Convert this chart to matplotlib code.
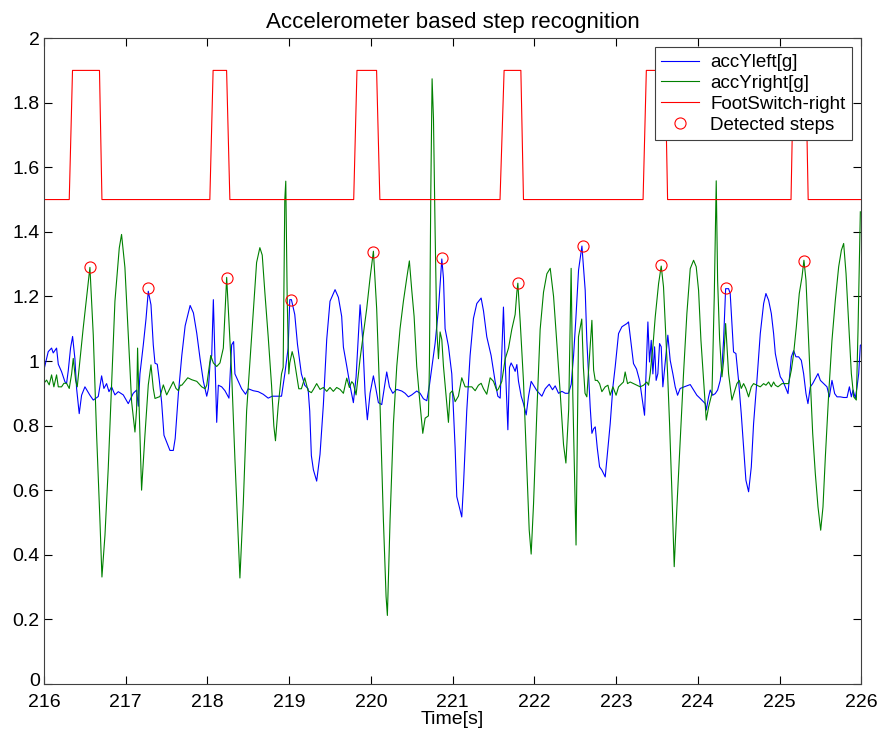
import matplotlib
matplotlib.use('Agg')
from matplotlib import pyplot as plt
from matplotlib.transforms import ScaledTranslation

# 时间轴 [s] 与左脚加速度
left_t = [216.000, 216.053, 216.094, 216.114, 216.155, 216.176, 216.216, 216.257, 216.277, 216.298,
          216.326, 216.351, 216.379, 216.400, 216.432, 216.461, 216.502, 216.563, 216.604, 216.665,
          216.706, 216.734, 216.767, 216.796, 216.828, 216.869, 216.910, 216.971, 217.032, 217.093,
          217.134, 217.155, 217.175, 217.216, 217.249, 217.277, 217.310, 217.338, 217.359, 217.387,
          217.412, 217.440, 217.469, 217.501, 217.542, 217.583, 217.606, 217.646, 217.687, 217.728,
          217.789, 217.829, 217.870, 217.911, 217.951, 217.992, 218.012, 218.033, 218.053, 218.073,
          218.093, 218.114, 218.134, 218.175, 218.215, 218.264, 218.297, 218.321, 218.337, 218.378,
          218.419, 218.467, 218.500, 218.561, 218.622, 218.683, 218.744, 218.793, 218.866, 218.907,
          218.947, 218.988, 219.008, 219.028, 219.069, 219.102, 219.150, 219.191, 219.232, 219.252,
          219.272, 219.297, 219.337, 219.378, 219.419, 219.460, 219.500, 219.562, 219.603, 219.643,
          219.664, 219.705, 219.745, 219.786, 219.819, 219.868, 219.900, 219.929, 219.957, 219.990,
          220.031, 220.063, 220.092, 220.133, 220.194, 220.227, 220.268, 220.317, 220.378, 220.419,
          220.459, 220.500, 220.561, 220.602, 220.643, 220.684, 220.716, 220.786, 220.827, 220.868,
          220.888, 220.908, 220.949, 220.990, 221.010, 221.031, 221.051, 221.112, 221.133, 221.173,
          221.214, 221.255, 221.296, 221.349, 221.378, 221.418, 221.471, 221.520, 221.553, 221.582,
          221.622, 221.643, 221.676, 221.696, 221.716, 221.745, 221.765, 221.786, 221.806, 221.839,
          221.867, 221.900, 221.929, 221.961, 221.990, 222.031, 222.092, 222.133, 222.182, 222.222,
          222.255, 222.296, 222.337, 222.378, 222.418, 222.451, 222.480, 222.508, 222.541, 222.582,
          222.622, 222.642, 222.663, 222.683, 222.704, 222.725, 222.745, 222.770, 222.798, 222.826,
          222.867, 222.928, 222.961, 222.989, 223.030, 223.071, 223.132, 223.152, 223.213, 223.250,
          223.287, 223.348, 223.389, 223.409, 223.430, 223.450, 223.471, 223.490, 223.511, 223.532,
          223.552, 223.572, 223.633, 223.662, 223.694, 223.723, 223.752, 223.784, 223.833, 223.907,
          223.948, 223.988, 224.029, 224.091, 224.103, 224.132, 224.152, 224.181, 224.213, 224.242,
          224.274, 224.295, 224.315, 224.340, 224.376, 224.396, 224.437, 224.466, 224.498, 224.531,
          224.560, 224.588, 224.621, 224.654, 224.682, 224.723, 224.764, 224.805, 224.833, 224.866,
          224.899, 224.927, 224.948, 224.980, 225.009, 225.037, 225.070, 225.103, 225.144, 225.172,
          225.200, 225.233, 225.266, 225.294, 225.323, 225.347, 225.376, 225.405, 225.470, 225.499,
          225.539, 225.580, 225.609, 225.641, 225.674, 225.703, 225.743, 225.784, 225.825, 225.854,
          225.878, 225.899, 225.927, 225.948, 225.968, 225.988, 226.000]
left_v = [0.972, 1.029, 1.040, 1.025, 1.040, 0.990, 0.967, 0.936, 0.930, 0.970,
          1.040, 1.076, 1.008, 0.915, 0.837, 0.894, 0.920, 0.894, 0.879, 0.890,
          0.954, 0.915, 0.930, 0.905, 0.920, 0.895, 0.905, 0.895, 0.868, 0.900,
          0.910, 0.860, 0.960, 1.050, 1.130, 1.216, 1.174, 1.050, 0.993, 0.990,
          0.940, 0.873, 0.770, 0.749, 0.723, 0.723, 0.760, 0.902, 1.017, 1.109,
          1.172, 1.149, 1.086, 1.006, 0.937, 0.891, 0.914, 0.994, 1.017, 1.190,
          1.000, 0.810, 0.925, 0.920, 0.908, 0.885, 1.050, 1.060, 0.960, 0.937,
          0.914, 0.897, 0.914, 0.908, 0.905, 0.897, 0.885, 0.891, 0.891, 0.891,
          0.960, 1.040, 1.190, 1.190, 1.144, 1.052, 0.960, 0.925, 0.914, 0.845,
          0.707, 0.663, 0.628, 0.711, 0.865, 1.067, 1.185, 1.221, 1.197, 1.138,
          1.043, 0.984, 0.924, 0.871, 0.950, 1.174, 1.067, 0.900, 0.818, 0.900,
          0.954, 0.912, 0.871, 0.865, 0.966, 0.920, 0.900, 0.912, 0.907, 0.900,
          0.889, 0.895, 0.907, 0.900, 0.883, 0.877, 0.924, 1.055, 1.162, 1.316,
          1.257, 1.100, 1.046, 0.960, 0.845, 0.730, 0.580, 0.517, 0.615, 0.845,
          1.017, 1.132, 1.178, 1.195, 1.155, 1.075, 1.017, 0.937, 0.891, 0.885,
          1.167, 1.000, 0.787, 0.980, 0.994, 0.980, 0.968, 0.989, 0.937, 0.891,
          0.868, 0.833, 0.891, 0.937, 0.925, 0.908, 0.891, 0.914, 0.928, 0.911,
          0.923, 0.900, 0.906, 0.900, 0.900, 0.928, 1.017, 1.132, 1.282, 1.356,
          1.219, 1.064, 0.961, 0.858, 0.776, 0.790, 0.796, 0.730, 0.672, 0.662,
          0.641, 0.806, 0.920, 0.982, 1.085, 1.106, 1.116, 1.121, 0.992, 0.975,
          0.940, 0.832, 1.121, 0.997, 1.064, 0.960, 1.044, 0.940, 0.961, 1.054,
          1.044, 0.920, 1.080, 1.002, 0.961, 0.920, 0.894, 0.915, 0.920, 0.927,
          0.910, 0.894, 0.884, 0.868, 0.848, 0.889, 0.910, 0.894, 0.899, 0.910,
          0.940, 0.982, 1.064, 1.224, 1.224, 1.209, 1.028, 1.023, 0.940, 0.837,
          0.734, 0.631, 0.595, 0.672, 0.806, 0.940, 1.085, 1.178, 1.209, 1.188,
          1.147, 1.085, 1.023, 0.982, 0.951, 0.940, 0.920, 0.899, 1.013, 1.032,
          1.013, 1.013, 1.002, 0.961, 0.899, 0.868, 0.920, 0.930, 0.961, 0.940,
          0.930, 0.920, 0.889, 0.940, 0.899, 0.889, 0.889, 0.887, 0.887, 0.920,
          0.889, 0.910, 0.885, 0.920, 0.961, 1.049, 1.050]

# 右脚加速度
right_t = [216.000, 216.033, 216.065, 216.094, 216.122, 216.155, 216.176, 216.216, 216.245, 216.277,
           216.310, 216.339, 216.359, 216.388, 216.408, 216.480, 216.563, 216.604, 216.645, 216.685,
           216.710, 216.747, 216.787, 216.828, 216.869, 216.922, 216.950, 216.991, 217.032, 217.073,
           217.114, 217.134, 217.146, 217.167, 217.195, 217.236, 217.277, 217.310, 217.338, 217.359,
           217.420, 217.461, 217.502, 217.542, 217.583, 217.616, 217.646, 217.667, 217.687, 217.760,
           217.809, 217.870, 217.931, 217.972, 217.992, 218.041, 218.073, 218.114, 218.154, 218.195,
           218.236, 218.297, 218.337, 218.378, 218.398, 218.439, 218.480, 218.541, 218.602, 218.642,
           218.671, 218.703, 218.744, 218.785, 218.813, 218.833, 218.866, 218.907, 218.927, 218.947,
           218.959, 218.976, 218.996, 219.008, 219.037, 219.061, 219.089, 219.118, 219.150, 219.191,
           219.232, 219.272, 219.297, 219.337, 219.378, 219.419, 219.460, 219.500, 219.541, 219.582,
           219.623, 219.664, 219.705, 219.737, 219.766, 219.786, 219.819, 219.868, 219.949, 219.990,
           220.031, 220.071, 220.112, 220.153, 220.186, 220.202, 220.235, 220.276, 220.317, 220.357,
           220.398, 220.439, 220.471, 220.500, 220.529, 220.561, 220.602, 220.635, 220.664, 220.704,
           220.716, 220.733, 220.749, 220.766, 220.786, 220.806, 220.827, 220.847, 220.868, 220.888,
           220.929, 220.949, 220.969, 220.998, 221.031, 221.071, 221.112, 221.153, 221.194, 221.235,
           221.276, 221.316, 221.349, 221.378, 221.418, 221.459, 221.500, 221.541, 221.561, 221.602,
           221.643, 221.684, 221.724, 221.765, 221.786, 221.798, 221.827, 221.867, 221.908, 221.937,
           221.961, 221.990, 222.031, 222.071, 222.112, 222.153, 222.194, 222.235, 222.276, 222.316,
           222.357, 222.386, 222.420, 222.450, 222.470, 222.510, 222.540, 222.580, 222.600, 222.620,
           222.642, 222.704, 222.725, 222.745, 222.770, 222.798, 222.826, 222.867, 222.900, 222.928,
           222.961, 223.000, 223.030, 223.070, 223.090, 223.111, 223.140, 223.172, 223.213, 223.254,
           223.295, 223.336, 223.376, 223.397, 223.417, 223.450, 223.479, 223.520, 223.552, 223.580,
           223.601, 223.630, 223.654, 223.682, 223.711, 223.744, 223.784, 223.825, 223.866, 223.907,
           223.948, 223.980, 224.009, 224.038, 224.071, 224.103, 224.132, 224.173, 224.201, 224.225,
           224.242, 224.266, 224.295, 224.315, 224.340, 224.376, 224.417, 224.478, 224.507, 224.531,
           224.560, 224.588, 224.621, 224.654, 224.682, 224.723, 224.764, 224.805, 224.833, 224.866,
           224.899, 224.927, 224.948, 224.980, 225.030, 225.070, 225.110, 225.144, 225.172, 225.205,
           225.241, 225.274, 225.298, 225.323, 225.347, 225.376, 225.405, 225.437, 225.470, 225.503,
           225.531, 225.560, 225.601, 225.641, 225.682, 225.723, 225.756, 225.784, 225.813, 225.845,
           225.878, 225.907, 225.939, 225.960, 225.976, 225.988]
right_v = [0.931, 0.941, 0.926, 0.957, 0.920, 0.957, 0.920, 0.920, 0.931, 0.931,
           0.915, 0.960, 1.008, 0.940, 0.920, 1.100, 1.290, 1.080, 0.770, 0.510,
           0.331, 0.460, 0.667, 0.926, 1.185, 1.350, 1.392, 1.290, 1.080, 0.874,
           0.780, 0.850, 1.040, 0.840, 0.600, 0.770, 0.926, 0.988, 0.915, 0.884,
           0.890, 0.926, 0.895, 0.915, 0.936, 0.915, 0.908, 0.925, 0.925, 0.948,
           0.942, 0.937, 0.920, 0.914, 0.925, 1.017, 0.994, 0.983, 0.994, 1.040,
           1.259, 0.960, 0.695, 0.443, 0.328, 0.557, 0.845, 1.075, 1.305, 1.351,
           1.328, 1.213, 1.075, 0.925, 0.799, 0.753, 0.860, 0.960, 0.980, 1.500,
           1.557, 1.200, 0.960, 0.994, 1.029, 1.006, 0.960, 0.914, 0.914, 0.948,
           0.908, 0.902, 0.912, 0.930, 0.912, 0.918, 0.906, 0.918, 0.906, 0.918,
           0.912, 0.900, 0.947, 0.918, 0.936, 0.930, 0.895, 1.007, 1.162, 1.257,
           1.340, 1.162, 0.865, 0.509, 0.271, 0.212, 0.509, 0.806, 0.984, 1.100,
           1.185, 1.257, 1.310, 1.220, 1.138, 0.984, 0.865, 0.776, 0.823, 0.830,
           0.984, 1.518, 1.874, 1.750, 1.400, 1.100, 1.007, 1.090, 1.066, 0.984,
           0.865, 0.810, 0.900, 0.908, 0.874, 0.891, 0.948, 0.920, 0.920, 0.920,
           0.908, 0.925, 0.931, 0.914, 0.897, 0.948, 0.937, 0.908, 0.914, 0.937,
           1.006, 1.040, 1.098, 1.144, 1.213, 1.241, 1.121, 0.937, 0.672, 0.477,
           0.402, 0.557, 0.845, 1.098, 1.213, 1.270, 1.287, 1.200, 1.052, 0.902,
           0.741, 0.684, 0.850, 1.287, 0.900, 0.430, 1.075, 1.130, 0.980, 0.900,
           0.889, 1.126, 0.972, 0.940, 0.940, 0.930, 0.905, 0.920, 0.925, 0.894,
           0.920, 0.894, 0.920, 0.930, 0.935, 0.966, 0.930, 0.935, 0.930, 0.925,
           0.920, 0.925, 0.935, 0.925, 0.961, 1.044, 1.137, 1.240, 1.294, 1.230,
           1.116, 0.961, 0.807, 0.600, 0.363, 0.548, 0.755, 0.961, 1.147, 1.286,
           1.312, 1.292, 1.219, 1.064, 0.940, 0.817, 0.858, 0.900, 1.200, 1.558,
           1.250, 1.070, 0.951, 1.000, 1.116, 0.961, 0.879, 0.930, 0.940, 0.915,
           0.930, 0.915, 0.889, 0.920, 0.930, 0.925, 0.920, 0.930, 0.925, 0.935,
           0.920, 0.935, 0.925, 0.920, 0.930, 0.930, 0.930, 0.972, 1.023, 1.106,
           1.209, 1.260, 1.312, 1.250, 1.106, 0.940, 0.776, 0.652, 0.548, 0.476,
           0.548, 0.703, 0.899, 1.064, 1.188, 1.292, 1.343, 1.364, 1.271, 1.116,
           0.961, 0.889, 0.879, 1.100, 1.300, 1.462]

# 脚底开关信号
switch_t = [216.00, 216.31, 216.35, 216.68, 216.71, 218.03, 218.07, 218.235, 218.275,
            219.79, 219.83, 220.07, 220.11, 221.58, 221.63, 221.835, 221.867,
            223.33, 223.37, 223.60, 223.63, 225.14, 225.17, 225.32, 225.35, 226.00]
switch_v = [1.5, 1.5, 1.9, 1.9, 1.5, 1.5, 1.9, 1.9, 1.5,
            1.5, 1.9, 1.9, 1.5, 1.5, 1.9, 1.9, 1.5,
            1.5, 1.9, 1.9, 1.5, 1.5, 1.9, 1.9, 1.5, 1.5]

# 检测到的步
step_t = [216.56, 217.27, 218.24, 219.02, 220.03, 220.87, 221.80, 222.59, 223.55, 224.34, 225.30]
step_v = [1.29, 1.225, 1.257, 1.19, 1.337, 1.318, 1.243, 1.356, 1.296, 1.226, 1.31]

y_ticks = [0, 0.2, 0.4, 0.6, 0.8, 1.0, 1.2, 1.4, 1.6, 1.8, 2.0]
y_labels = ['0', '0.2', '0.4', '0.6', '0.8', '1', '1.2', '1.4', '1.6', '1.8', '2']
x_ticks = list(range(216, 227))

plt.rcParams['font.family'] = ['Liberation Sans Narrow', 'Liberation Sans', 'DejaVu Sans']

fig = plt.figure(figsize=(8.78, 7.33), dpi=100)
ax = fig.add_axes([0.050, 0.067, 0.931, 0.881])

ax.plot(left_t, left_v, color='#0000ff', lw=0.8, label='accYleft[g]')
ax.plot(right_t, right_v, color='#008000', lw=0.8, label='accYright[g]')
ax.plot(switch_t, switch_v, color='#ff0000', lw=0.8, label='FootSwitch-right')
ax.plot(step_t, step_v, 'o', mfc='none', mec='#ff0000', ms=8, mew=0.8, label='Detected steps')

ax.set_xlim(216, 226)
ax.set_ylim(0, 2)
ax.set_xticks(x_ticks)
ax.set_xticklabels([str(t) for t in x_ticks])
ax.set_yticks(y_ticks)
ax.set_yticklabels(y_labels)
ax.tick_params(direction='in', length=6, width=0.8, top=True, right=True, labelsize=14)
ax.tick_params(axis='x', pad=7)
ax.tick_params(axis='y', pad=3)
for s in ax.spines.values():
    s.set_linewidth(0.8)
    s.set_color('#404040')

# "0" 稍微上移, 避免和 216 重叠
zero_lbl = ax.get_yticklabels()[0]
zero_lbl.set_transform(zero_lbl.get_transform() + ScaledTranslation(0, 4 / 100, fig.dpi_scale_trans))

ax.set_title('Accelerometer based step recognition', fontsize=16, family='Liberation Sans', pad=7)
ax.set_xlabel('Time[s]', fontsize=14, labelpad=0)

leg = ax.legend(loc='upper right', prop={'family': 'Liberation Sans', 'size': 13.5},
                fancybox=False, framealpha=1, edgecolor='#404040', borderpad=0.35,
                handlelength=2.0, labelspacing=0.2, borderaxespad=0.5, handletextpad=0.6)
leg.get_frame().set_linewidth(0.8)

fig.savefig('out.png', dpi=100)
